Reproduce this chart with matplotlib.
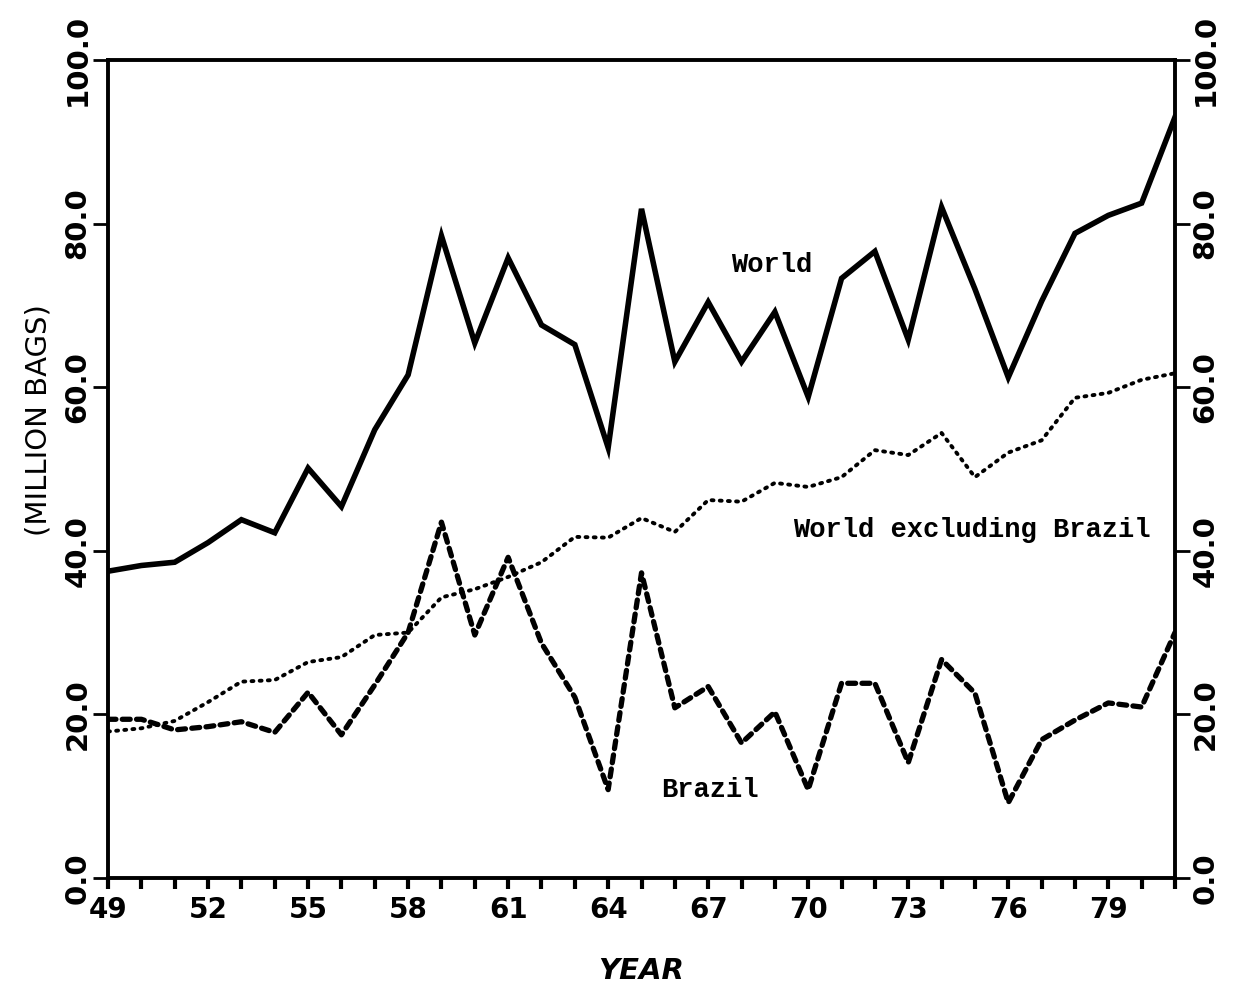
import matplotlib
matplotlib.use('Agg')
import matplotlib.pyplot as plt
from matplotlib.ticker import MultipleLocator

YEARS = list(range(49, 82))
WORLD = [37.5, 38.2, 38.6, 41.0, 43.8, 42.2, 50.1, 45.4, 54.8, 61.5,
         78.5, 65.4, 75.8, 67.6, 65.2, 52.6, 81.8, 63.1, 70.4, 63.1,
         69.2, 58.8, 73.3, 76.6, 65.8, 82.0, 72.0, 61.2, 70.5, 78.8,
         81.0, 82.5, 93.0]
WORLD_EX_BRAZIL = [17.9, 18.3, 19.2, 21.5, 24.0, 24.2, 26.4, 27.0, 29.7, 30.0,
                   34.3, 35.3, 36.8, 38.6, 41.7, 41.6, 44.0, 42.3, 46.2, 46.0,
                   48.3, 47.8, 49.0, 52.3, 51.7, 54.4, 49.0, 52.0, 53.5, 58.7,
                   59.3, 60.9, 61.7]
BRAZIL = [19.4, 19.4, 18.1, 18.5, 19.1, 17.8, 22.7, 17.5, 23.6, 30.0,
          43.5, 29.7, 39.2, 28.7, 22.1, 10.8, 37.3, 20.8, 23.4, 16.5,
          20.3, 10.8, 23.8, 23.8, 14.1, 26.7, 22.6, 9.2, 16.9, 19.3,
          21.4, 20.9, 30.0]
X_TICKS = list(range(49, 80, 3))
Y_TICKS = [0, 20, 40, 60, 80, 100]


def main():
    fig = plt.figure(figsize=(12.46, 9.96), dpi=100)
    ax = fig.add_axes([0.0867, 0.1185, 0.8563, 0.8213])

    ax.plot(YEARS, WORLD, color='black', lw=4.0, solid_joinstyle='miter')
    ax.plot(YEARS, BRAZIL, color='black', lw=3.8, linestyle=(0, (1.5, 1.2)),
            dash_capstyle='round')
    ax.plot(YEARS, WORLD_EX_BRAZIL, color='black', lw=2.8,
            linestyle=(0, (0.5, 1.6)), dash_capstyle='round')

    ax.set_xlim(49, 81)
    ax.set_ylim(0, 100)

    ax.set_xticks(X_TICKS)
    ax.set_xticklabels([str(t) for t in X_TICKS], fontsize=20, fontweight='heavy')
    ax.xaxis.set_minor_locator(MultipleLocator(1))
    ax.tick_params(axis='x', which='both', direction='out', length=8,
                   width=3, pad=5, top=False)

    ax.set_yticks(Y_TICKS)
    ax.set_yticklabels(['{:.1f}'.format(t) for t in Y_TICKS], rotation=90,
                       va='center', fontsize=21, fontweight='bold')
    ax.tick_params(axis='y', which='both', direction='out', length=11,
                   width=2, pad=1, left=True, right=True,
                   labelleft=True, labelright=True)

    for side in ['left', 'right', 'top', 'bottom']:
        ax.spines[side].set_linewidth(2.8)

    ax.set_ylabel('(MILLION BAGS)', fontsize=21)
    ax.yaxis.set_label_coords(-0.052, 0.56)
    ax.set_xlabel('YEAR', fontsize=21, fontweight='bold', fontstyle='italic',
                  labelpad=24)

    label_font = dict(family='Liberation Mono', fontweight='bold', fontsize=19.5)
    ax.text(68.9, 74.9, 'World', ha='center', va='center', **label_font)
    ax.text(74.9, 42.5, 'World excluding Brazil', ha='center', va='center',
            **label_font)
    ax.text(67.05, 10.8, 'Brazil', ha='center', va='center', **label_font)

    fig.savefig('out.png', dpi=100)


if __name__ == '__main__':
    main()
